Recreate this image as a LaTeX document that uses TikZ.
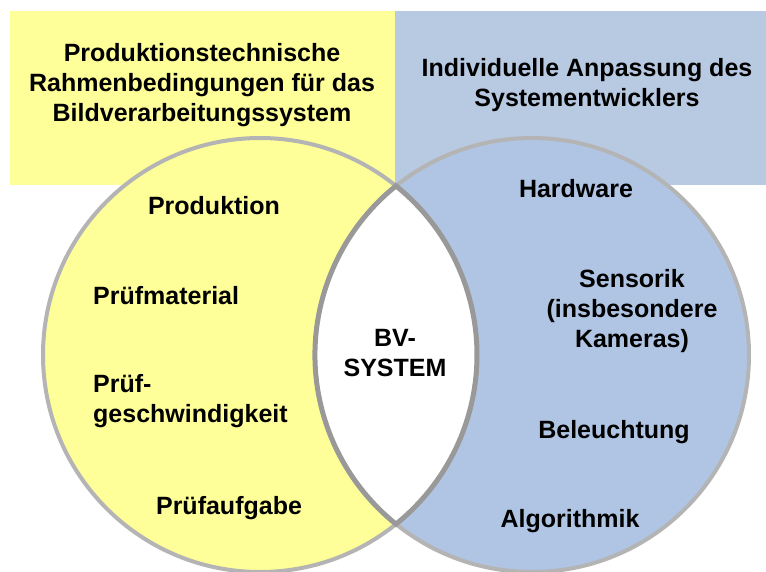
\documentclass[tikz,border=0pt]{standalone}
\usepackage{fontspec}
\setmainfont{Liberation Sans}
\usetikzlibrary{calc}

\definecolor{rahmengelb}{HTML}{FFFF99}
\definecolor{rahmenblau}{HTML}{B8C9E2}
\definecolor{kreisblau}{HTML}{B0C5E4}
\definecolor{kreisrand}{HTML}{B4B4B4}
\definecolor{linsenrand}{HTML}{999999}

\begin{document}
\begin{tikzpicture}[x=1pt, y=1pt,
  txt/.style={font=\fontsize{25}{30}\selectfont\bfseries, inner sep=0pt, anchor=base},
  txtl/.style={txt, anchor=base west, align=left},
  kreis/.style={draw=kreisrand, line width=4pt}]

\useasboundingbox (0,0) rectangle (766,-571);

% Rahmen oben
\fill [rahmengelb] (10,-11) rectangle (395,-185);
\fill [rahmenblau] (395,-11) rectangle (766,-185);

% die beiden Kreise
\coordinate (links) at (260,-355);
\coordinate (rechts) at (532,-355);
\filldraw [kreis, fill=rahmengelb] (links) circle (217);
\filldraw [kreis, fill=kreisblau] (rechts) circle (217);

% Schnittmenge
\filldraw [fill=white, draw=linsenrand, line width=5pt]
($(links)+(51.2:217)$) arc [start angle=51.2, end angle=-51.2, radius=217]
arc [start angle=231.2, end angle=128.8, radius=217] -- cycle;

% Ueberschriften (base = letzte Zeile)
\node [txt, align=center] (rahmen) at (202,-121)
  {Produktionstechnische\\Rahmenbedingungen für das\\Bildverarbeitungssystem};
\node [txt, align=center] (anpassung) at (587,-106)
  {Individuelle Anpassung des\\Systementwicklers};

% linker Kreis
\node [txt] (produktion) at (214,-214) {Produktion};
\node [txtl] (material) at (93,-304) {Prüfmaterial};
\node [txtl] (geschw) at (93,-422) {Prüf-\\geschwindigkeit};
\node [txt] (aufgabe) at (229,-514) {Prüfaufgabe};

% rechter Kreis
\node [txt] (hardware) at (576,-197) {Hardware};
\node [txt, align=center] (sensorik) at (632,-347) {Sensorik\\(insbesondere\\Kameras)};
\node [txt] (beleuchtung) at (614,-438) {Beleuchtung};
\node [txt] (algorithmik) at (570,-527) {Algorithmik};

% Mitte
\node [txt, align=center] (bv) at (395,-376) {BV-\\SYSTEM};
\end{tikzpicture}
\end{document}
